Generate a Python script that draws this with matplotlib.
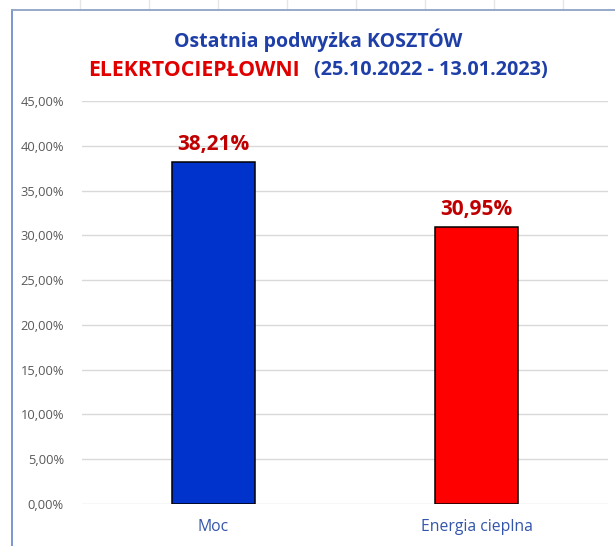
import matplotlib
matplotlib.use("Agg")
import matplotlib.pyplot as plt
from matplotlib.lines import Line2D

categories = ["Moc", "Energia cieplna"]
values = [38.21, 30.95]
bar_colors = ["#0033CC", "#FF0000"]
value_labels = ["38,21%", "30,95%"]
yticks = [0, 5, 10, 15, 20, 25, 30, 35, 40, 45]
ytick_labels = ["0,00%", "5,00%", "10,00%", "15,00%", "20,00%", "25,00%",
                "30,00%", "35,00%", "40,00%", "45,00%"]

plt.rcParams['font.family'] = ['Open Sans', 'DejaVu Sans']

W, H = 615, 546
fig = plt.figure(figsize=(W / 100, H / 100), dpi=100)
fig.patch.set_facecolor("white")

# spreadsheet gridlines above chart frame
for xp in [80, 149, 218, 287, 356, 425, 494, 563]:
    fig.add_artist(Line2D([xp / W, xp / W], [1, 1 - 10 / H], transform=fig.transFigure,
                          color="#E6E6E6", lw=1))

# chart frame
fig.add_artist(Line2D([12 / W, 12 / W], [0, 1 - 10 / H], transform=fig.transFigure,
                      color="#6F8FCF", lw=1.3))
fig.add_artist(Line2D([12 / W, 1], [1 - 10 / H, 1 - 10 / H], transform=fig.transFigure,
                      color="#8FA3C8", lw=1.3))

ax = fig.add_axes([82 / W, 1 - 504 / H, (608 - 82) / W, (504 - 101) / H])
x = [0, 1]
ax.bar(x, values, width=0.315, color=bar_colors, edgecolor="black", linewidth=1.1, zorder=3)
ax.set_xlim(-0.5, 1.5)
ax.set_ylim(0, 45)
ax.set_yticks(yticks)
ax.set_yticklabels(ytick_labels, color="#595959", fontsize=9.3)
ax.set_xticks(x)
ax.set_xticklabels(categories, color="#3355AA", fontsize=11.3)
ax.tick_params(axis="both", length=0)
ax.tick_params(axis="y", pad=13)
ax.tick_params(axis="x", pad=11)
for s in ax.spines.values():
    s.set_visible(False)
ax.grid(axis="y", color="#D9D9D9", lw=1, zorder=0)
ax.set_axisbelow(True)

for xi, v, lab in zip(x, values, value_labels):
    ax.annotate(lab, (xi, v), xytext=(0, 5), textcoords="offset points",
                ha="center", va="bottom", color="#C00000", fontsize=15, fontweight="bold")

# titles
fig.text(318 / W, 1 - 40 / H, "Ostatnia podwyżka KOSZTÓW", ha="center", va="center",
         color="#1F3FA8", fontsize=14, fontweight="bold")
fig.text(88 / W, 1 - 70 / H, "ELEKRTOCIEPŁOWNI", ha="left", va="center",
         color="#E00000", fontsize=15.3, fontweight="bold")
fig.text(548 / W, 1 - 70 / H, "(25.10.2022 - 13.01.2023)", ha="right", va="center",
         color="#1F3FA8", fontsize=14.2, fontweight="bold")

fig.savefig("out.png", dpi=100)
